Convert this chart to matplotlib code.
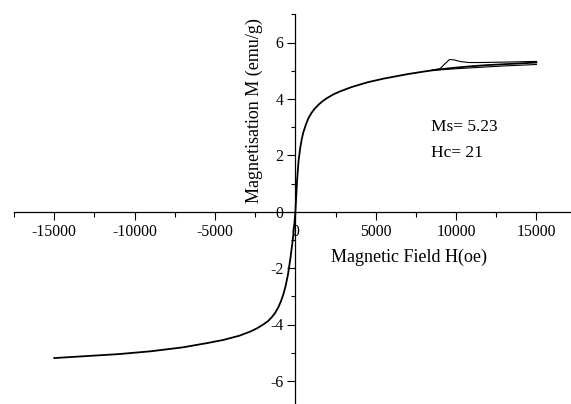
import numpy as np
import matplotlib
matplotlib.use('Agg')
import matplotlib.pyplot as plt
from matplotlib.ticker import MultipleLocator

plt.rcParams['font.family'] = ['Liberation Serif', 'DejaVu Serif']

# main branch (field in Oe, magnetisation in emu/g)
field = [-15000, -13000, -11000, -9000, -7000, -5500, -4500, -3500, -2800,
         -2400, -2000, -1700, -1450, -1250, -1050, -900, -750, -600, -450,
         -300, -150, 0, 100, 200, 300, 400, 500, 650, 800, 1000, 1200,
         1450, 1700, 2000, 2400, 2800, 3500, 4500, 5500, 7000, 8000, 9000,
         10000, 11000, 12000, 13000, 14000, 15000]
magn = [-5.19, -5.12, -5.05, -4.95, -4.81, -4.66, -4.55, -4.40, -4.25,
        -4.14, -4.00, -3.88, -3.73, -3.58, -3.38, -3.18, -2.94, -2.62, -2.20,
        -1.62, -0.95, -0.05, 1.05, 1.80, 2.25, 2.58, 2.82, 3.08, 3.30, 3.50, 3.65,
        3.80, 3.92, 4.04, 4.17, 4.27, 4.42, 4.59, 4.72, 4.88, 4.97, 5.05,
        5.11, 5.16, 5.20, 5.23, 5.26, 5.29]

# branch with the bump near 9.6 kOe
field_up = [8500, 9000, 9300, 9600, 9900, 10300, 10800, 11500, 12500, 13500, 15000]
magn_up = [5.02, 5.07, 5.24, 5.40, 5.38, 5.32, 5.29, 5.29, 5.30, 5.31, 5.33]

# lower branch at high field
field_low = [8500, 10000, 11500, 13000, 15000]
magn_low = [5.01, 5.07, 5.12, 5.17, 5.22]

xticks = [-15000, -10000, -5000, 0, 5000, 10000, 15000]
yticks = [-6, -4, -2, 0, 2, 4, 6]

fig = plt.figure(figsize=(5.71, 4.04), dpi=100)
ax = fig.add_axes([14.1/571, -5.1/404, 562.5/571, 394.8/404])

ax.plot(field, magn, color='black', lw=1.3)
ax.plot(field_up, magn_up, color='black', lw=0.8)
ax.plot(field_low, magn_low, color='black', lw=0.8)

ax.set_xlim(-17500, 17500)
ax.set_ylim(-7, 7)

ax.spines['left'].set_position(('data', 0))
ax.spines['bottom'].set_position(('data', 0))
ax.spines['right'].set_visible(False)
ax.spines['top'].set_visible(False)
for s in ['left', 'bottom']:
    ax.spines[s].set_linewidth(0.9)

ax.set_xticks(xticks)
ax.set_xticklabels([str(v) for v in xticks])
ax.set_yticks(yticks)
ax.set_yticklabels([str(v) for v in yticks])
ax.xaxis.set_minor_locator(MultipleLocator(2500))
ax.yaxis.set_minor_locator(MultipleLocator(1))

ax.tick_params(axis='both', which='major', direction='out', labelsize=11.3, width=0.8, pad=3)
ax.tick_params(axis='x', which='major', length=5.8)
ax.tick_params(axis='y', which='major', length=5.5)
ax.tick_params(axis='x', which='minor', direction='out', length=3.6, width=0.8)
ax.tick_params(axis='y', which='minor', direction='out', length=3.0, width=0.8)

ax.text(-2570, 3.6, 'Magnetisation M (emu/g)', rotation=90, ha='center', va='center', fontsize=13)
ax.text(7080, -1.61, 'Magnetic Field H(oe)', ha='center', va='center', fontsize=13)
ax.text(8440, 3.0, 'Ms= 5.23', ha='left', va='center', fontsize=12.5)
ax.text(8440, 2.08, 'Hc= 21', ha='left', va='center', fontsize=12.5)

fig.savefig('out.png', dpi=100)
